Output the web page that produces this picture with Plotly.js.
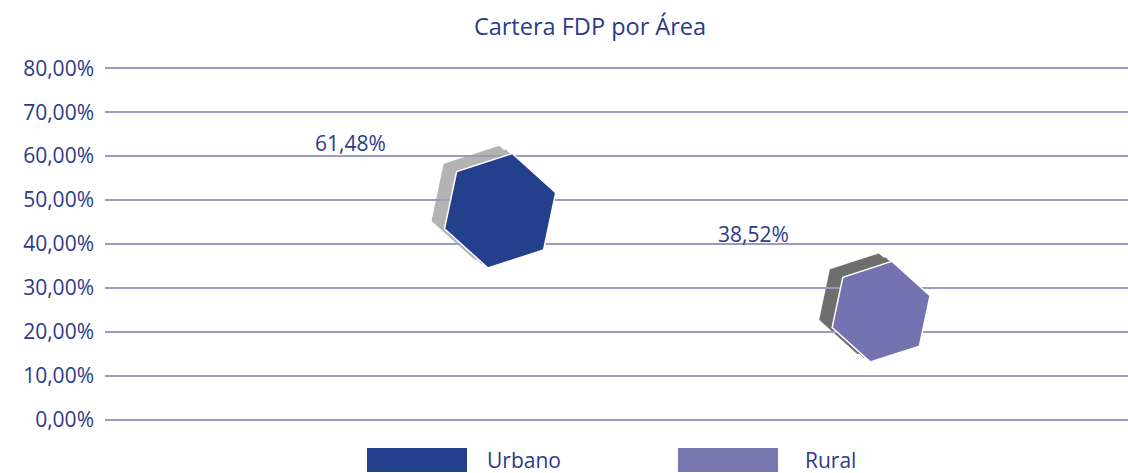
<!DOCTYPE html>
<html>
<head>
<meta charset="utf-8">
<script src="https://cdn.plot.ly/plotly-3.0.1.min.js"></script>
<style>html,body{margin:0;padding:0;background:#fff;}#chart{width:1128px;height:473px;}</style>
</head>
<body>
<div id="chart"></div>
<script>
// ---- data ----
const categories = ['Urbano', 'Rural'];
const values = [0.6148, 0.3852];
const yTickVals = [0, 0.1, 0.2, 0.3, 0.4, 0.5, 0.6, 0.7, 0.8];
const chartTitle = 'Cartera FDP por Área';

// ---- styles ----
const textColor = '#2b3b8a';
const gridColor = '#9c9ac0';
const faceColors = ['#243f8c', '#7373b2'];
const shadowColors = ['#b3b3b3', '#6e6e6e'];
const legendColors = ['#243f8c', '#7676ae'];
const markerSizes = [117, 103];
const markerAngle = 12;
const labelShiftX = [-150, -128];
const labelShiftY = [7, 17];
const fontFamily = '"Open Sans", "Noto Sans", sans-serif';

const W = 1128, H = 473, L = 105, R = 0, T = 66, B = 51;
const plotW = W - L - R, plotH = H - T - B;
const px = x => (x - L) / plotW;
const py = y => (T + plotH - y) / plotH;

const xRange = [-1.037, 1.648];
const yRange = [-0.005, 0.805];
const hexDrop = 0.1392;          // hexagon hangs below its value
const shX = 0.034, shY = 0.018;  // shadow offset in axis units

function fmtPct(v) { return (v * 100).toFixed(2).replace('.', ',') + '%'; }

const hexTrace = (xa, ya, colors, line) => ({
  type: 'scatter', mode: 'markers',
  x: categories, y: values,
  xaxis: xa, yaxis: ya,
  hoverinfo: 'skip',
  marker: {
    symbol: 'hexagon', size: markerSizes, angle: markerAngle,
    color: colors, opacity: 1, line: line
  }
});

// subplots are layered in id order: xy (grid), x2y2, x3y3, x4y4
const traces = [
  hexTrace('x2', 'y2', shadowColors, {width: 0}),   // full shadow offset
  hexTrace('x3', 'y3', shadowColors, {width: 0}),   // half shadow offset
  hexTrace('x4', 'y4', faceColors, {color: '#ffffff', width: 1.5}) // face
];

const annotations = categories.map((c, i) => ({
  x: c, y: values[i], xref: 'x4', yref: 'y',
  text: fmtPct(values[i]), showarrow: false,
  xshift: labelShiftX[i], yshift: labelShiftY[i],
  font: {family: fontFamily, size: 21, color: textColor}
}));

const legendRects = [[367, 467], [678, 778]];
const legendTextX = [485, 803];
const shapes = [];
categories.forEach((c, i) => {
  shapes.push({
    type: 'rect', xref: 'paper', yref: 'paper',
    x0: px(legendRects[i][0]), x1: px(legendRects[i][1]),
    y0: py(472), y1: py(448),
    fillcolor: legendColors[i], line: {width: 0}
  });
  annotations.push({
    x: px(legendTextX[i]), y: py(460), xref: 'paper', yref: 'paper',
    xanchor: 'left', yanchor: 'middle', text: c, showarrow: false,
    font: {family: fontFamily, size: 21, color: textColor}
  });
});

const hiddenX = (shift, anchor) => ({
  type: 'category', categoryorder: 'array', categoryarray: categories,
  range: [xRange[0] + shift, xRange[1] + shift], visible: false, fixedrange: true,
  anchor: anchor
});
const hiddenY = (shift, anchor) => ({
  range: [yRange[0] + shift, yRange[1] + shift], visible: false, fixedrange: true,
  anchor: anchor
});

const layout = {
  width: W, height: H,
  margin: {l: L, r: R, t: T, b: B, pad: 0},
  paper_bgcolor: '#ffffff', plot_bgcolor: 'rgba(0,0,0,0)',
  separators: ',.',
  showlegend: false,
  font: {family: fontFamily, color: textColor},
  title: {
    text: chartTitle, x: 590 / W, xanchor: 'center',
    y: 1 - 27 / H, yanchor: 'middle',
    font: {family: fontFamily, size: 23.5, color: textColor}
  },
  xaxis: hiddenX(0, 'y'),
  xaxis2: hiddenX(shX, 'y2'),
  xaxis3: hiddenX(shX / 2, 'y3'),
  xaxis4: hiddenX(0, 'y4'),
  yaxis: {
    range: yRange, tickmode: 'array', tickvals: yTickVals, tickformat: '.2%',
    showgrid: true, gridcolor: gridColor, gridwidth: 1.5,
    zeroline: false, showline: false, ticks: '',
    ticklabelstandoff: 10,
    tickfont: {family: fontFamily, size: 21, color: textColor},
    fixedrange: true, anchor: 'x'
  },
  yaxis2: hiddenY(hexDrop - shY, 'x2'),
  yaxis3: hiddenY(hexDrop - shY / 2, 'x3'),
  yaxis4: hiddenY(hexDrop, 'x4'),
  shapes: shapes,
  annotations: annotations
};

Plotly.newPlot('chart', traces, layout, {displayModeBar: false, staticPlot: true});
</script>
</body>
</html>
